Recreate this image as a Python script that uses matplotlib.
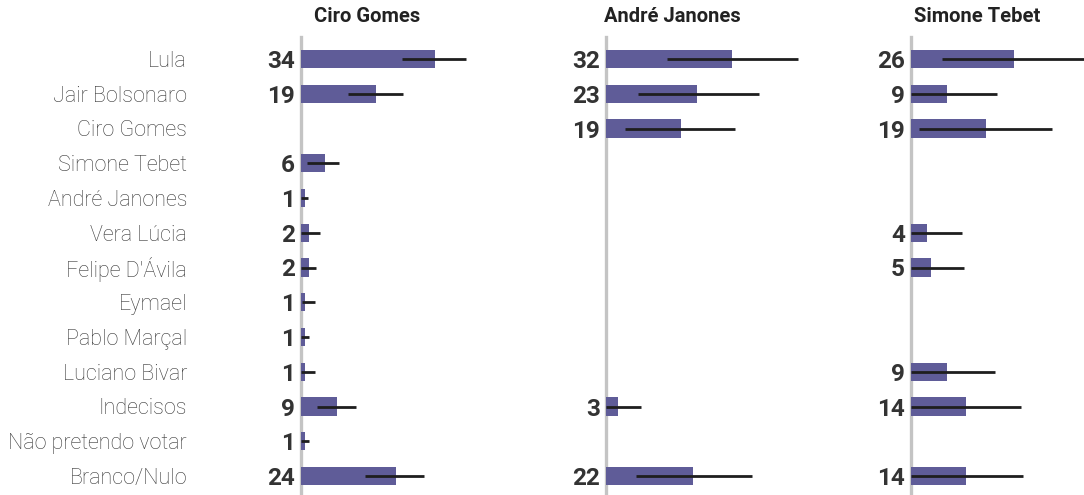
import matplotlib.pyplot as plt

plt.rcParams['font.family'] = ['Roboto', 'DejaVu Sans']

# Data
categories = ["Lula", "Jair Bolsonaro", "Ciro Gomes", "Simone Tebet", "André Janones",
              "Vera Lúcia", "Felipe D'Ávila", "Eymael", "Pablo Marçal", "Luciano Bivar",
              "Indecisos", "Não pretendo votar", "Branco/Nulo"]

panels = ["Ciro Gomes", "André Janones", "Simone Tebet"]

ciro_vals = [34, 19, None, 6, 1, 2, 2, 1, 1, 1, 9, 1, 24]
ciro_lo = [25.6, 11.9, None, 1.5, 0, 0, 0, 0.3, 0, 0, 4.0, 0, 16.2]
ciro_hi = [41.8, 25.8, None, 9.6, 1.8, 4.8, 3.8, 3.5, 2.0, 3.5, 13.9, 2.0, 31.1]

janones_vals = [32, 23, 19, None, None, None, None, None, None, None, 3, None, 22]
janones_lo = [15.4, 8.1, 4.8, None, None, None, None, None, None, None, 0, None, 7.6]
janones_hi = [48.6, 38.7, 32.7, None, None, None, None, None, None, None, 8.9, None, 37.0]

tebet_vals = [26, 9, 19, None, None, 4, 5, None, None, 9, 14, None, 14]
tebet_lo = [7.8, 0, 2.0, None, None, 0, 0, None, None, 0, 0, None, 0]
tebet_hi = [46.0, 21.8, 35.7, None, None, 12.9, 13.4, None, None, 21.3, 27.8, None, 28.4]

series = [(ciro_vals, ciro_lo, ciro_hi), (janones_vals, janones_lo, janones_hi),
          (tebet_vals, tebet_lo, tebet_hi)]

W, H = 1084, 495
px_per_unit = 3.95
zero_px = [301, 606, 911]
width_px = [290, 290, W - 911]
title_cx = [367, 672, 977]

bar_color = "#5f5c98"
text_color = "#333333"

fig = plt.figure(figsize=(W / 100, H / 100), dpi=100)

top_px, bottom_px = 37, 495
row0_px, row_step = 59, 34.75
n = len(categories)

for k in range(3):
    ax = fig.add_axes([zero_px[k] / W, 1 - bottom_px / H, width_px[k] / W, (bottom_px - top_px) / H])
    ax.set_xlim(0, width_px[k] / px_per_unit)
    ax.set_ylim((bottom_px - row0_px) / row_step, (top_px - row0_px) / row_step)
    for s in ax.spines.values():
        s.set_visible(False)
    ax.set_xticks([])
    ax.axvline(0, color="#c4c4c4", lw=2.4, clip_on=False, zorder=1)

    vals, lo, hi = series[k]
    for i, v in enumerate(vals):
        if v is None:
            continue
        ax.barh(i, v, height=0.52, color=bar_color, zorder=2)
        ax.hlines(i, lo[i], hi[i], color="#1e1e1e", lw=2.0, zorder=3)
        ax.annotate(str(v), xy=(0, i), xytext=(-4.5, 0), textcoords="offset points",
                    ha="right", va="center_baseline", fontsize=17.5, fontweight="bold",
                    color=text_color, annotation_clip=False)

    if k == 0:
        ax.set_yticks(range(n))
        ax.set_yticklabels(categories, fontsize=15.5, fontweight="light", color="#383838")
        ax.tick_params(axis="y", length=0, pad=82)
    else:
        ax.set_yticks([])

    fig.text(title_cx[k] / W, 1 - 17 / H, panels[k], ha="center", va="center",
             fontsize=14.5, fontweight="bold", color="#222222")

fig.savefig("out.png", dpi=100)
